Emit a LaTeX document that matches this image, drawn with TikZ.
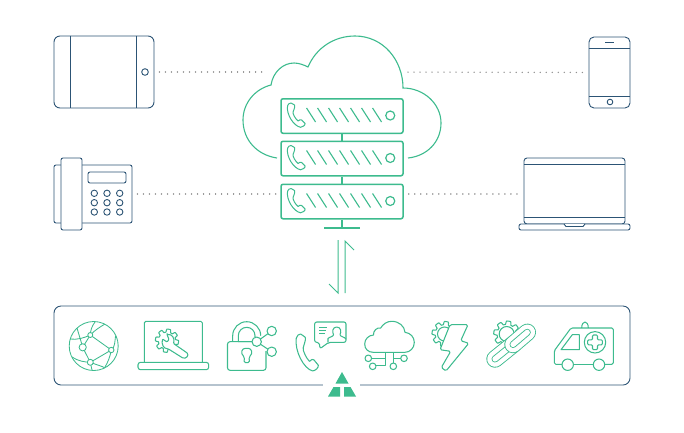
\documentclass[tikz,border=0pt]{standalone}
\usepackage{xcolor}
\usepackage{tikz}
\usetikzlibrary{positioning,calc}
\definecolor{navy}{HTML}{2c5475}
\definecolor{mint}{HTML}{3dbb8e}
\definecolor{dotgray}{HTML}{8f8f8f}
\tikzset{
  handset/.pic={
    \draw[fill=white] (1,2.7) .. controls (1.5,1) and (3,0) .. (4.5,0) -- (8,2) .. controls (8.8,2.8) and (8,5) .. (6.5,9)
      .. controls (6,11) and (9,16) .. (11.5,18) .. controls (13,17) and (14,16) .. (15,17) -- (18.5,20.5)
      .. controls (19,22) and (16,24.3) .. (14,24.3) .. controls (7,23) and (-.5,11) .. (1,2.7) -- cycle;
  },
  gear/.pic={
    \draw[fill=white] plot[domain=0:360,samples=145] (\x:{10.1+1.5*max(-1,min(1,2.5*sin(8*\x+20)+.5))}) -- cycle;
  }
}
\begin{document}
\begin{tikzpicture}[
  x=1pt, y=-1pt,
  dev/.style={draw=navy, line width=.9pt, rounded corners=2pt, inner sep=0pt, fill=white},
  srv/.style={draw=mint, line width=1.5pt, rounded corners=2pt, inner sep=0pt, minimum width=122pt, minimum height=34.5pt},
  lnk/.style={mint, line width=1.5pt},
  thin line/.style={navy, line width=.9pt},
  ico/.style={mint, line width=1.05pt, line join=round},
  dots/.style={dotgray, line width=1.5pt, line cap=round, dash pattern=on .01pt off 6pt, shorten <=5pt, shorten >=1pt}]
  \useasboundingbox (0,0) rectangle (684,432);
  % devices
  \node[dev, rounded corners=6pt, minimum width=100pt, minimum height=72pt] (tablet) at (104,72) {};
  \node[dev, rounded corners=5pt, minimum width=41pt, minimum height=71pt] (mobile) at (609.5,72.5) {};
  \node[dev, minimum width=78pt, minimum height=58pt] (desk) at (93,194) {};
  \node[dev, minimum width=21pt, minimum height=72pt] (receiver) at (71.5,194) {};
  \node[dev, minimum width=38pt, minimum height=11pt] (screen) at (107,177.5) {};
  \node[dev, rounded corners=3pt, minimum width=101pt, minimum height=66pt] (laptop) at (574.5,191) {};
  \node[dev, minimum width=111pt, minimum height=6pt] (base) at (574.5,227) {};
  \draw[thin line] (tablet.north west)++(17,0) -- ++(0,72);
  \draw[thin line] (tablet.north east)++(-18,0) -- ++(0,72);
  \draw[thin line] (145,72) circle[radius=3.3];
  \foreach \x in {94.3,107,119.7} \foreach \y in {193.3,202.7,212}
    \draw[thin line] (\x,\y) circle[radius=3.2];
  \draw[thin line] (mobile.west |- 0,48) -- (mobile.east |- 0,48);
  \draw[thin line] (mobile.west |- 0,96) -- (mobile.east |- 0,96);
  \draw[thin line] (605,42) -- (614,42);
  \draw[thin line] (610,102) circle[radius=2.8];
  \draw[thin line] (laptop.west |- 0,164) -- (laptop.east |- 0,164);
  \draw[thin line] (laptop.west |- 0,217) -- (laptop.east |- 0,217);
  \draw[thin line, fill=white] (564,224) -- (566,226.5) -- (583,226.5) -- (585,224);
  % cloud
  \draw[mint, line width=1.1pt] (277,158) .. controls (257,155) and (243,140) .. (243,120) .. controls (243,103) and (255,89) .. (271,85)
    .. controls (273,72) and (283,63) .. (294,63) .. controls (299,63) and (304,65) .. (308,67)
    .. controls (316,48) and (334,36) .. (355,36) .. controls (383,36) and (403,60) .. (403,88)
    .. controls (424,88) and (441,104) .. (441,123) .. controls (441,142) and (427,156) .. (408,158);
  \coordinate (cloudL) at (267,72);
  \coordinate (cloudR) at (403,72);
  % rack
  \node[srv] (srvA) at (342,116) {};
  \node[srv] (srvB) at (342,158.5) {};
  \node[srv] (srvC) at (342,201.5) {};
  \foreach \s in {srvA,srvB,srvC} {
    \begin{scope}[shift={(\s.north west)}]
      \pic[ico, line width=1pt] at (6.3,5) {handset};
      \foreach \i in {0,...,6}
        \draw[mint, line width=1.1pt] (26.3+11*\i,10) -- ++(9,14);
      \draw[mint, line width=1.2pt] (110,17.5) circle[radius=4.5];
    \end{scope}
  }
  \draw[lnk] (srvA) -- (srvB);
  \draw[lnk] (srvB) -- (srvC);
  \coordinate (foot) at (342,228);
  \draw[lnk] (srvC) -- (foot);
  \draw[lnk] (324,228) -- (360,228);
  % dotted links
  \draw[dots] (tablet.east) -- (cloudL);
  \draw[dots] (cloudR) -- (mobile.west);
  \draw[dots] (desk.east) -- (desk.east -| srvC.west);
  \draw[dots] (desk.east -| srvC.east) -- (desk.east -| laptop.west);
  % up and down
  \node[draw=navy, line width=.9pt, rounded corners=7pt, inner sep=0pt, minimum width=576pt, minimum height=79pt] (panel) at (342,345.5) {};
  \coordinate (dnT) at (338,240);
  \coordinate (upB) at (345,293);
  \draw[mint, line width=1pt] (dnT) -- (338,293) -- (329,284);
  \draw[mint, line width=1pt] (upB) -- (345,241) -- (354,250);
  % logo
  \fill[white] (323,382) rectangle (360,388);
  \fill[mint] (342,372) -- (348.5,383.5) -- (335.5,383.5) -- cycle;
  \fill[mint] (328,396.5) -- (340,396.5) -- (340,387) -- (333.5,387) -- cycle;
  \fill[mint] (344,396.5) -- (356,396.5) -- (350.5,387) -- (344,387) -- cycle;
  % globe
  \begin{scope}[ico, line width=.85pt]
    \draw (93.7,346) circle[radius=24.5];
    \draw (90.3,335) -- (82.7,347.3) -- (90.3,362.3) -- (111.3,350) -- cycle;
    \draw (90.3,335) .. controls (95,330) and (100,327) .. (105,324);
    \draw (70,339) .. controls (77,340) and (84,338) .. (90.3,335) .. controls (90.5,330) and (92,326) .. (95,322);
    \draw (77,328) .. controls (79,335) and (81,341) .. (82.7,347.3);
    \draw (72,357) .. controls (78,361) and (84,362) .. (90.3,362.3) .. controls (97,365) and (102,366) .. (105,368);
    \draw (111.3,350) .. controls (115,348) and (115,340) .. (115.5,336);
    \draw (111.3,350) .. controls (110,357) and (108,362) .. (105,367);
    \draw (90.3,362.3) -- (92,370);
    \draw[fill=white] (90.3,335) circle[radius=2.5];
    \draw[fill=white] (82.7,347.3) circle[radius=3.6];
    \draw[fill=white] (111.3,350) circle[radius=2.7];
    \draw[fill=white] (90.3,362.3) circle[radius=3];
  \end{scope}
  % laptop with tool
  \begin{scope}[ico]
    \draw[rounded corners=1.5pt] (144.3,362.3) -- (144.3,321.3) -- (202.3,321.3) -- (202.3,362.3);
    \draw[rounded corners=2.5pt] (138,362.3) rectangle (208.7,369.7);
    \pic at (167,340.7) {gear};
    \draw[fill=white, rounded corners=.8pt] (167,334.5) -- (169,339.5) -- (167,342) -- (162.5,339)
      .. controls (161.5,344) and (163,348.5) .. (168.5,349) -- (182,357.5) .. controls (186,359.5) and (189.5,355) .. (186.5,352.5)
      -- (173.5,343.5) .. controls (175,338) and (172,334) .. (167,334.5) -- cycle;
  \end{scope}
  % lock
  \begin{scope}[ico]
    \draw[rounded corners=2.5pt] (252,341.7) -- (227.5,341.7) -- (227.5,370.3) -- (266,370.3) -- (266,351);
    \draw (232.7,341.7) -- (232.7,335.7) .. controls (232.7,328) and (239,321.7) .. (246.7,321.7) .. controls (254.4,321.7) and (260.7,328) .. (260.7,335.7);
    \draw (252,341.7) -- (238.3,341.7) -- (238.3,335.7) .. controls (238.3,331) and (242,327.3) .. (246.7,327.3) .. controls (251.4,327.3) and (255,331) .. (255,335.7) -- (255,337);
    \draw (256.7,341.7) -- (271.7,331) (256.7,341.7) -- (271.7,351.7);
    \draw[fill=white] (256.7,341.7) circle[radius=4.7];
    \draw[fill=white] (271.7,331) circle[radius=4.7];
    \draw[fill=white] (271.7,351.7) circle[radius=4.7];
    \draw[rounded corners=1.5pt] (244.5,357) .. controls (240,353) and (242,348.3) .. (246.7,348.3) .. controls (251.4,348.3) and (253.4,353) .. (249,357) -- (249.5,362.7) -- (244,362.7) -- cycle;
  \end{scope}
  % call
  \begin{scope}[ico]
    \pic[ico, xscale=1.26, yscale=1.52] at (295,334) {handset};
    \draw[fill=white, rounded corners=2pt] (320,348.7) -- (319.3,342.3) -- (314.7,342.3) -- (314.7,322) -- (346,322) -- (346,342.3) -- (328.7,342.3) -- cycle;
    \draw (319,327.5) -- (326.7,327.5) (319,330.5) -- (326,330.5) (319,333.2) -- (324.5,333.2);
    \draw (336.7,327) .. controls (341,327) and (341.5,332) .. (340,334.5) .. controls (339.5,336.5) and (345,337) .. (346,339)
      (336.7,327) .. controls (332.5,327) and (332,332) .. (333.5,334.5) .. controls (334,336.5) and (329,337) .. (328,338.5) -- (328,342.3);
  \end{scope}
  % cloud net
  \begin{scope}[ico]
    \draw (373.3,352.3) .. controls (368,352.3) and (364.7,349) .. (364.7,344) .. controls (364.7,339) and (368.5,335.3) .. (373.5,335)
      .. controls (373,331) and (377,327) .. (380.7,328) .. controls (383,324) and (387,321.3) .. (391.7,321.3)
      .. controls (399,321.3) and (404.5,326) .. (405,332.3) .. controls (410.5,333) and (414.3,337) .. (414.3,342.5)
      .. controls (414.3,348) and (410,352.3) .. (405,352.3) -- cycle;
    \draw (385.7,352.3) -- (385.7,365.7) -- (376,365.7) (385.7,358.3) -- (371.6,358.3);
    \draw (393.3,352.3) -- (393.3,363) (393.3,358.3) -- (400.7,358.3);
    \draw (368.3,358.3) circle[radius=3.3];
    \draw (372.7,366.3) circle[radius=3.3];
    \draw (393.3,366.3) circle[radius=3.3];
    \draw (404,358.3) circle[radius=3.3];
  \end{scope}
  % bolt
  \begin{scope}[ico]
    \pic[scale=1.08] at (444.5,334) {gear};
    \draw (444.5,334) circle[radius=7];
    \draw[fill=white, rounded corners=1.5pt] (450,324.7) -- (468,324.7) -- (460.7,340.7) -- (468.7,343.3) -- (446,371) -- (441.3,367.5) -- (450.7,351.3) -- (440,349.7) -- cycle;
  \end{scope}
  % chain
  \begin{scope}[ico]
    \pic[scale=1.12] at (506.7,334) {gear};
    \draw (506.7,334) circle[radius=7.5];
    \foreach \linkA/\linkB in {495/359, 527.3/332.3} {
      \coordinate (linkEnd) at (\linkA,\linkB);
      \coordinate (linkMid) at (513,344.5);
      \draw[mint, line width=17.4pt, line cap=round] (linkEnd) -- (linkMid);
      \draw[white, line width=15.6pt, line cap=round] (linkEnd) -- (linkMid);
      \draw[mint, line width=7pt, line cap=round] (linkEnd) -- (linkMid);
      \draw[white, line width=5.2pt, line cap=round] (linkEnd) -- (linkMid);
    }
  \end{scope}
  % ambulance
  \begin{scope}[ico]
    \draw (581.7,328) .. controls (581.7,320) and (588.3,320) .. (588.3,328);
    \draw[rounded corners=1.5pt] (562,364.3) -- (554.3,364.3) -- (554.3,350.7) -- (571,328) -- (613.3,328) -- (613.3,364.3) -- (604.7,364.3);
    \draw (573.4,364.3) -- (593.3,364.3);
    \draw (567.7,364.7) circle[radius=5.7];
    \draw (599,364.7) circle[radius=5.7];
    \draw (561,349.7) -- (572.3,334.7) -- (579.3,334.7) -- (579.3,349.7) -- cycle;
    \draw (595,342.3) circle[radius=10.7];
    \draw[rounded corners=1pt] (592.5,335) -- (597.5,335) -- (597.5,339.8) -- (602.3,339.8) -- (602.3,344.8) -- (597.5,344.8) -- (597.5,349.6) -- (592.5,349.6) -- (592.5,344.8) -- (587.7,344.8) -- (587.7,339.8) -- (592.5,339.8) -- cycle;
  \end{scope}
\end{tikzpicture}
\end{document}
